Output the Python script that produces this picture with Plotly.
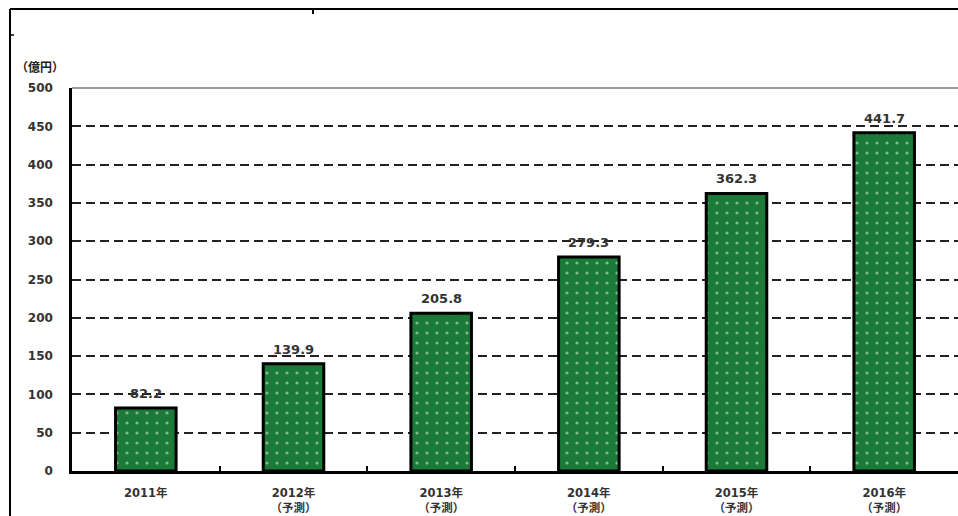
import plotly.graph_objects as go

# Market size (100 million yen) by year; 2012 onward are forecasts
years = ["2011年", "2012年<br>（予測）", "2013年<br>（予測）", "2014年<br>（予測）",
         "2015年<br>（予測）", "2016年<br>（予測）"]
values = [82.2, 139.9, 205.8, 279.3, 362.3, 441.7]
y_ticks = [0, 50, 100, 150, 200, 250, 300, 350, 400, 450, 500]
unit_label = "（億円）"

W, H = 958, 516
L, R, T, B = 72, 0, 88, 45
plot_w = W - L - R
plot_h = H - T - B


def px_x(x):
    return (x - L) / plot_w


def px_y(y):
    return (H - B - y) / plot_h


font_family = "DejaVu Sans, Noto Sans CJK JP, sans-serif"

fig = go.Figure()
fig.add_trace(go.Bar(
    x=years,
    y=values,
    width=0.41,
    marker=dict(
        color="#1b7a38",
        line=dict(color="#000000", width=3),
        pattern=dict(shape=".", fgcolor="#e8f5ea", size=10, solidity=0.08),
    ),
    hoverinfo="skip",
))

# value labels above each bar
for cat, v in zip(years, values):
    fig.add_annotation(
        x=cat, y=v, text=f"{v:.1f}", showarrow=False,
        yanchor="bottom", yshift=5,
        font=dict(family=font_family, size=13, color="#333333", weight="bold"),
    )

# unit label above the value axis
fig.add_annotation(
    x=px_x(14), y=px_y(68), xref="paper", yref="paper",
    text=unit_label, showarrow=False, xanchor="left", yanchor="middle",
    font=dict(family=font_family, size=12, color="#222222", weight="bold"),
)

shapes = [
    # plot-area top border
    dict(type="line", xref="paper", yref="paper", x0=0, x1=1, y0=1, y1=1,
         line=dict(color="#777777", width=1.5), layer="above"),
    # outer frame (left and top edges)
    dict(type="line", xref="paper", yref="paper", x0=px_x(10), x1=px_x(10),
         y0=px_y(516), y1=px_y(9), line=dict(color="#000000", width=2)),
    dict(type="line", xref="paper", yref="paper", x0=px_x(10), x1=px_x(958),
         y0=px_y(9), y1=px_y(9), line=dict(color="#000000", width=2)),
    dict(type="line", xref="paper", yref="paper", x0=px_x(313), x1=px_x(313),
         y0=px_y(9), y1=px_y(14), line=dict(color="#000000", width=2)),
    dict(type="line", xref="paper", yref="paper", x0=px_x(10), x1=px_x(14),
         y0=px_y(35), y1=px_y(35), line=dict(color="#000000", width=1.5)),
]

fig.update_layout(
    width=W, height=H,
    margin=dict(l=L, r=R, t=T, b=B, pad=0),
    paper_bgcolor="#ffffff",
    plot_bgcolor="#ffffff",
    showlegend=False,
    shapes=shapes,
    bargap=0.59,
    xaxis=dict(
        type="category",
        automargin=False,
        showgrid=False,
        showline=True, linecolor="#000000", linewidth=2.5,
        ticks="inside", ticklen=5, tickwidth=2, tickcolor="#000000",
        tickson="boundaries",
        ticklabelstandoff=9,
        tickfont=dict(family=font_family, size=11.5, color="#333333", weight="bold"),
        fixedrange=True,
    ),
    yaxis=dict(
        range=[0, 500],
        automargin=False,
        tickvals=y_ticks,
        showgrid=True, gridcolor="#222222", gridwidth=2, griddash="9px,5px",
        showline=True, linecolor="#000000", linewidth=2.5,
        zeroline=False,
        ticks="",
        ticklabelstandoff=14,
        tickfont=dict(family=font_family, size=12, color="#333333", weight="bold"),
        fixedrange=True,
    ),
)

fig.write_html("out.html", config={"displayModeBar": False})
